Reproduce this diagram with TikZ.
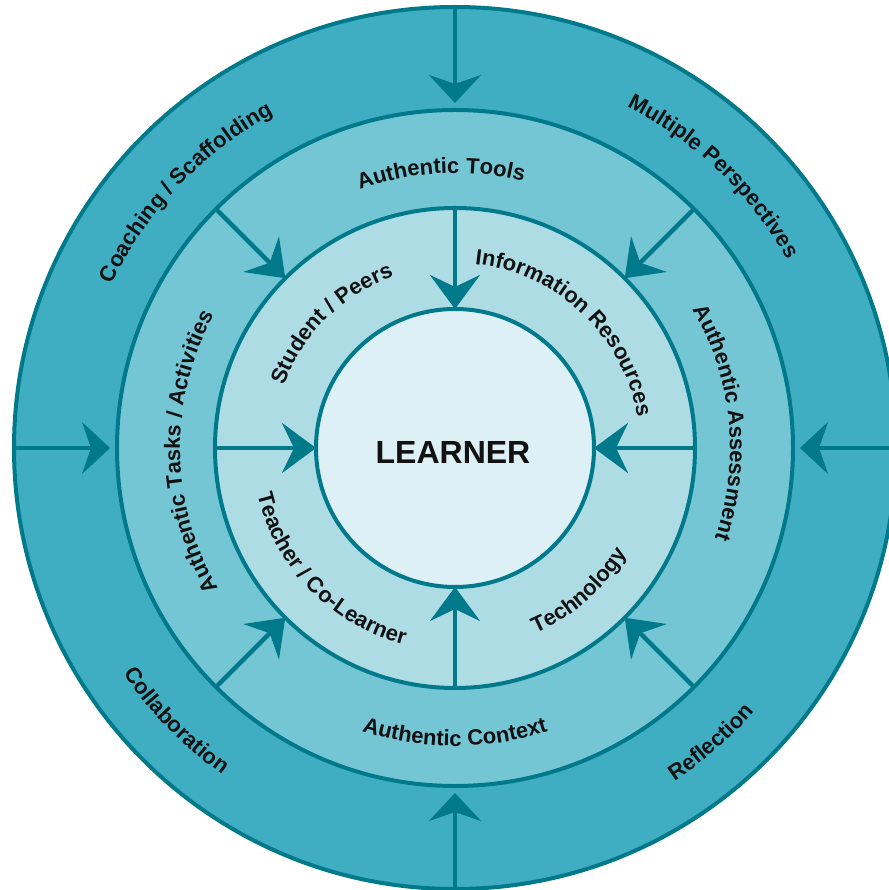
\documentclass[tikz,border=0pt]{standalone}
\usepackage{fontspec}
\setmainfont{Liberation Sans}
\usetikzlibrary{arrows.meta,decorations.text}
\definecolor{ringA}{HTML}{40AEC2}
\definecolor{ringB}{HTML}{74C6D4}
\definecolor{ringC}{HTML}{AEDCE4}
\definecolor{core}{HTML}{DCF0F6}
\definecolor{tealline}{HTML}{00798B}
\definecolor{txt}{HTML}{111111}
\newcommand\cwtext[3]{% radius, centre angle, text (tops outward)
  \path[decorate,decoration={text along path,text align=center,text color=txt,
    text={|\bfseries\fontsize{22}{26}\selectfont|#3}}]
    ({#2+90}:#1pt) arc[start angle={#2+90},end angle={#2-90},radius=#1pt];}
\newcommand\ccwtext[3]{% radius, centre angle, text (tops inward)
  \path[decorate,decoration={text along path,text align=center,text color=txt,
    text={|\bfseries\fontsize{22}{26}\selectfont|#3}}]
    ({#2-90}:#1pt) arc[start angle={#2-90},end angle={#2+90},radius=#1pt];}
\begin{document}
\begin{tikzpicture}[x=1pt,y=1pt,
  ring/.style={circle,draw=tealline,line width=4pt,inner sep=0pt,outer sep=0pt},
  oarr/.style={draw=tealline,line width=4.5pt,shorten >=7pt,
    -{Stealth[length=28pt,width=52pt,inset=9pt]}},
  iarr/.style={draw=tealline,line width=4.5pt,
    -{Stealth[length=34pt,width=50pt,inset=12pt]}}]
\useasboundingbox (-455,-442) rectangle (433,448);
\fill[white] (-455,-442) rectangle (433,448);
\node[ring,fill=ringA,minimum size=882pt] (c1) at (0,0) {};
\node[ring,fill=ringB,minimum size=676pt] (c2) at (0,0) {};
\node[ring,fill=ringC,minimum size=480pt] (c3) at (0,0) {};
\node[ring,fill=core,minimum size=278pt] (c4) at (0,0) {};
% outer ring arrows
\draw[oarr] (c1.north) -- (c2.north);
\draw[oarr] (c1.south) -- (c2.south);
\draw[oarr] (c1.west) -- (c2.west);
\draw[oarr] (c1.east) -- (c2.east);
% middle ring arrows
\draw[iarr] (c2.45) -- (c3.45);
\draw[iarr] (c2.135) -- (c3.135);
\draw[iarr] (c2.225) -- (c3.225);
\draw[iarr] (c2.315) -- (c3.315);
% inner ring arrows
\draw[iarr] (c3.north) -- (c4.north);
\draw[iarr] (c3.south) -- (c4.south);
\draw[iarr] (c3.west) -- (c4.west);
\draw[iarr] (c3.east) -- (c4.east);
% centre
\node[text=txt,font=\bfseries\fontsize{32}{36}\selectfont] (learner) at (-2,-4) {LEARNER};
% outer ring texts
\cwtext{380}{136.5}{Coaching / Scaffolding}
\cwtext{382}{46.4}{Multiple Perspectives}
\ccwtext{401}{224.4}{Collaboration}
\ccwtext{399}{311}{Reflection}
% middle ring texts
\cwtext{275}{92.9}{Authentic Tools}
\cwtext{275}{180.8}{Authentic Tasks / Activities}
\cwtext{275}{5.6}{Authentic Assessment}
\ccwtext{298}{270}{Authentic Context}
% inner ring texts
\cwtext{182}{134.8}{Student / Peers}
\cwtext{185}{46.7}{Information Resources}
\ccwtext{203}{224.4}{Teacher / Co-Learner}
\ccwtext{202}{311}{Technology}
\end{tikzpicture}
\end{document}
